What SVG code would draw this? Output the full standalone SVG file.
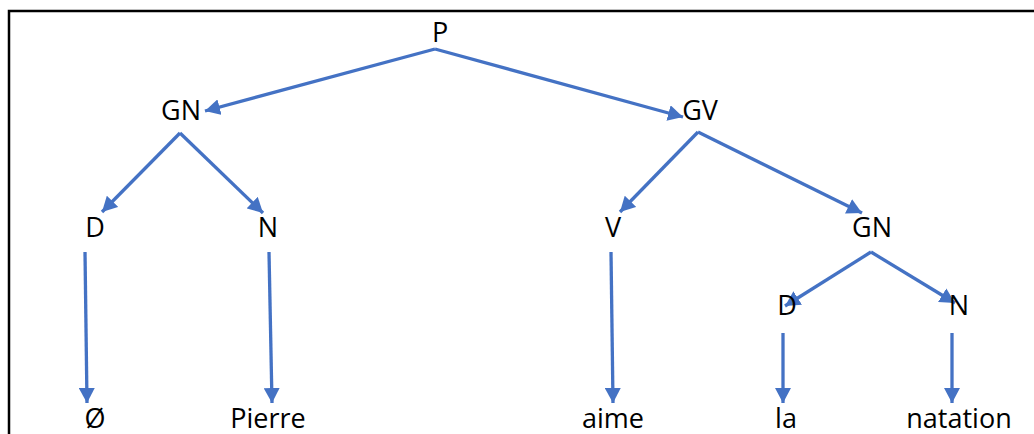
<svg xmlns="http://www.w3.org/2000/svg" width="1034" height="434" viewBox="0 0 1034 434">
<style>
text{font-family:"Open Sans","Liberation Sans",sans-serif;font-size:27px;fill:#000;text-anchor:middle}
.c line{stroke:#4472C4;stroke-width:3.3;marker-end:url(#ah)}
</style>
<defs>
<marker id="ah" markerUnits="userSpaceOnUse" markerWidth="15" markerHeight="16" refX="15" refY="8" orient="auto" viewBox="0 0 15 16">
<path d="M0,0 L15,8 L0,16 z" fill="#4472C4"/>
</marker>
</defs>
<rect x="9" y="11" width="1040" height="440" fill="none" stroke="#000" stroke-width="2.5"/>
<g class="c" id="connectors">
<line x1="435" y1="49" x2="205" y2="111"/>
<line x1="435" y1="49" x2="683" y2="117"/>
<line x1="180" y1="133" x2="102" y2="212"/>
<line x1="180" y1="133" x2="263" y2="213"/>
<line x1="698" y1="132" x2="620" y2="212"/>
<line x1="698" y1="132" x2="862" y2="213"/>
<line x1="85" y1="252" x2="87" y2="403"/>
<line x1="269" y1="252" x2="272" y2="403"/>
<line x1="611" y1="252" x2="613" y2="403"/>
<line x1="871" y1="252" x2="785" y2="306"/>
<line x1="871" y1="252" x2="955" y2="303"/>
<line x1="783" y1="333" x2="783" y2="403"/>
<line x1="952" y1="333" x2="952" y2="403"/>
</g>
<g id="n-P"><text x="440" y="42">P</text></g>
<g id="n-GN1"><text x="181" y="120">GN</text></g>
<g id="n-GV"><text x="700" y="120">GV</text></g>
<g id="n-D1"><text x="95" y="237">D</text></g>
<g id="n-N1"><text x="268" y="237">N</text></g>
<g id="n-V"><text x="613" y="237">V</text></g>
<g id="n-GN2"><text x="872" y="237">GN</text></g>
<g id="n-D2"><text x="787" y="315">D</text></g>
<g id="n-N2"><text x="959" y="315">N</text></g>
<g id="n-phi"><text x="95" y="428">Ø</text></g>
<g id="n-Pierre"><text x="268" y="428">Pierre</text></g>
<g id="n-aime"><text x="613" y="428">aime</text></g>
<g id="n-la"><text x="786" y="428">la</text></g>
<g id="n-natation"><text x="959" y="428">natation</text></g>
</svg>
